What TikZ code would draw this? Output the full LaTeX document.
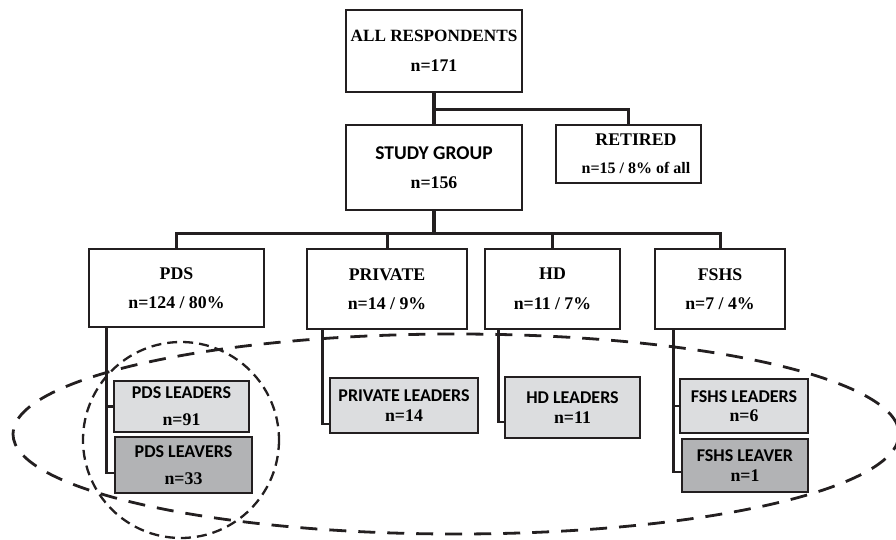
\documentclass[tikz,border=0pt]{standalone}
\usepackage{fontspec}
\setmainfont{Liberation Serif}
\newfontfamily\calib{Carlito}
\definecolor{ink}{RGB}{35,31,32}
\definecolor{lightbox}{RGB}{220,221,223}
\definecolor{darkbox}{RGB}{178,179,181}
\begin{document}
\begin{tikzpicture}[x=1pt,y=-1pt,
  box/.style={draw=ink, line width=1.9pt, fill=white, inner sep=0pt, align=center},
  topfont/.style={font=\bfseries\fontsize{17.8}{29.5}\selectfont},
  smallfont/.style={font=\bfseries\fontsize{17.8}{19.5}\selectfont},
  lbox/.style={box, fill=lightbox},
  dbox/.style={box, fill=darkbox},
  thick conn/.style={draw=ink, line width=4.6pt},
  conn/.style={draw=ink, line width=3pt},
  bracket/.style={draw=ink, line width=2.9pt},
  bigloop/.style={draw=ink, line width=2.8pt, dash pattern=on 17pt off 12pt},
  smallloop/.style={draw=ink, line width=2.3pt, dash pattern=on 10pt off 6pt}]
\useasboundingbox (0,0) rectangle (896,540);

% dashed groupings
\draw[bigloop] (456,434) ellipse [x radius=443, y radius=100];
\draw[smallloop] (181,440) circle [radius=98];

% top levels
\node[box, topfont, minimum width=176pt, minimum height=82pt] (all) at (434,51)
  {{\fontsize{17.2}{29.5}\selectfont ALL RESPONDENTS}\\n=171};
\node[box, topfont, minimum width=176pt, minimum height=85pt] (study) at (434,167.5)
  {{\calib\fontsize{19.5}{29.5}\selectfont STUDY GROUP}\\n=156};
\node[box, minimum width=145pt, minimum height=58pt] (retired) at (628.5,154) {};
\node[font=\bfseries\fontsize{17.8}{28}\selectfont, align=center, inner sep=0pt] (retiredtext) at (636,154)
  {RETIRED\\{\fontsize{16}{28}\selectfont n=15 / 8\% of all}};

% second level
\node[box, topfont, minimum width=175pt, minimum height=78pt] (pds) at (176.5,288)
  {PDS\\n=124 / 80\%};
\node[box, topfont, minimum width=160pt, minimum height=80pt] (private) at (387,289)
  {PRIVATE\\n=14 / 9\%};
\node[box, topfont, minimum width=135pt, minimum height=80pt] (hd) at (552.5,289)
  {HD\\n=11 / 7\%};
\node[box, topfont, minimum width=130pt, minimum height=80pt] (fshs) at (720,289)
  {FSHS\\n=7 / 4\%};

% third level
\node[lbox, font=\bfseries\fontsize{17.8}{27}\selectfont, minimum width=135pt, minimum height=51pt] (pdsl) at (181.5,406.5)
  {{\calib\fontsize{18}{27}\selectfont PDS LEADERS}\\n=91};
\node[dbox, font=\bfseries\fontsize{17.8}{26.5}\selectfont, minimum width=137pt, minimum height=56pt] (pdsv) at (183.5,465)
  {{\calib\fontsize{18}{26.5}\selectfont PDS LEAVERS}\\n=33};
\node[lbox, smallfont, minimum width=148pt, minimum height=55pt] (privl) at (404,405.5)
  {{\calib\fontsize{18}{19.5}\selectfont PRIVATE LEADERS}\\n=14};
\node[lbox, smallfont, minimum width=135pt, minimum height=61pt] (hdl) at (572.5,407.5)
  {{\calib\fontsize{18}{19.5}\selectfont HD LEADERS}\\n=11};
\node[lbox, smallfont, minimum width=128pt, minimum height=54pt] (fshsl) at (744,406)
  {{\calib\fontsize{18}{19.5}\selectfont FSHS LEADERS}\\n=6};
\node[dbox, smallfont, minimum width=126pt, minimum height=53pt] (fshsv) at (745,465.5)
  {{\calib\fontsize{18}{19.5}\selectfont FSHS LEAVER}\\n=1};

% connectors top
\coordinate (b1) at (434,110);
\coordinate (b2) at (434,233);
\draw[thick conn] (all.south) -- (study.north);
\draw[conn] (b1) -| (retired.north);
\draw[thick conn] (study.south) -- (b2);
\draw[conn] (pds.north) |- (fshs.north |- b2) -- (fshs.north);
\draw[conn] (private.north |- b2) -- (private.north);
\draw[conn] (hd.north |- b2) -- (hd.north);

% brackets
\draw[bracket] ([xshift=18pt]pds.south west) |- ([yshift=-8pt]pdsv.west);
\draw[bracket] ([xshift=18pt]pds.south west |- pdsl.west) -- (pdsl.west);
\draw[bracket] ([xshift=16pt]private.south west) |- ([yshift=-18.5pt]privl.west);
\draw[bracket] ([xshift=14pt]hd.south west) |- ([yshift=-14.5pt]hdl.west);
\draw[bracket] ([xshift=19pt]fshs.south west) |- ([yshift=-6.5pt]fshsv.west);
\draw[bracket] ([xshift=19pt]fshs.south west |- fshsl.west) -- (fshsl.west);
\end{tikzpicture}
\end{document}
